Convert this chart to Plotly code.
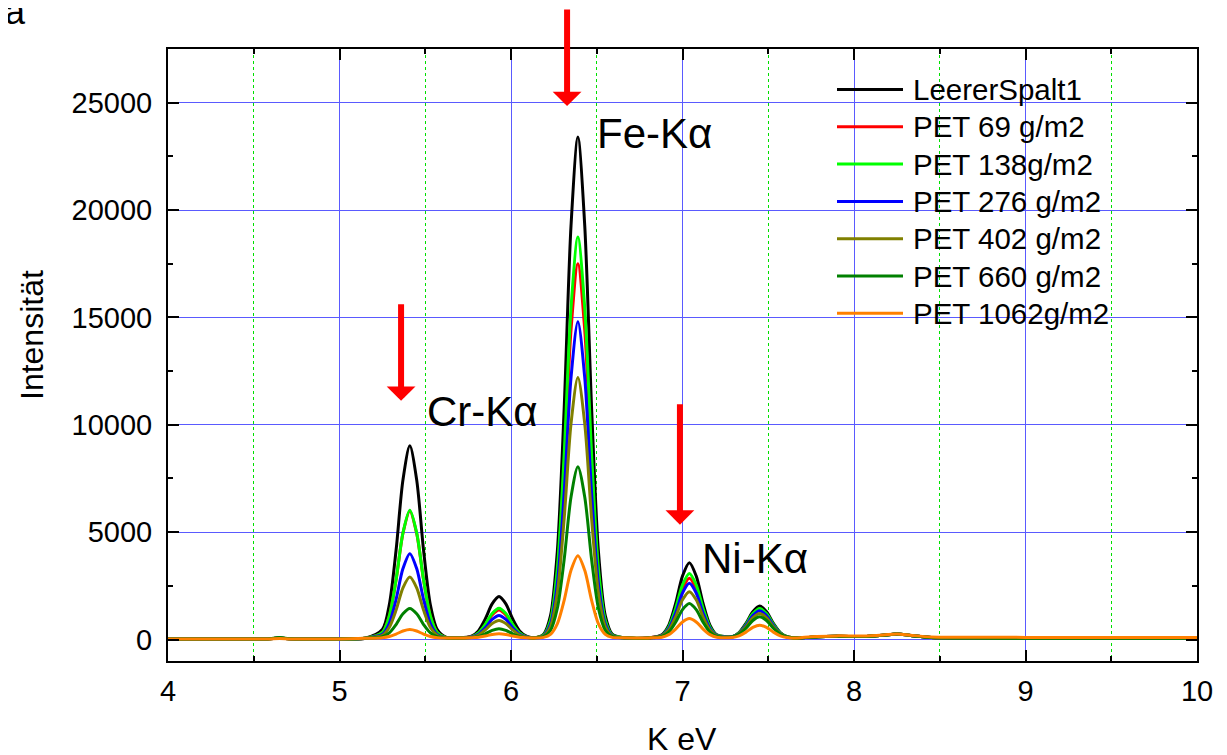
import plotly.graph_objects as go

# ---------------- data ----------------
energy_kev = [4.0, 4.4, 4.58, 4.65, 4.72, 5.0, 5.15,
              5.25, 5.29, 5.33, 5.37, 5.41, 5.45, 5.49, 5.53, 5.57, 5.62,
              5.70,
              5.77, 5.81, 5.85, 5.89, 5.93, 5.97, 6.01, 6.05, 6.09, 6.13,
              6.19, 6.23, 6.27, 6.31, 6.35, 6.39, 6.43, 6.47, 6.51, 6.55, 6.59,
              6.66, 6.80,
              6.88, 6.92, 6.96, 7.00, 7.04, 7.08, 7.12, 7.16, 7.20,
              7.29, 7.33, 7.37, 7.41, 7.45, 7.49, 7.53, 7.57, 7.61, 7.67,
              7.75, 7.9, 8.05, 8.17, 8.25, 8.33, 8.45, 8.7, 9.0, 9.5, 10.0]

leerer_spalt1 = [20, 20, 30, 70, 30, 30, 60,
                 464, 1609, 4169, 7436, 9020, 7436, 4169, 1609, 464, 110,
                 75,
                 155, 402, 954, 1658, 2000, 1658, 954, 402, 155, 85,
                 247, 1097, 4083, 10755, 19271, 23400, 19271, 10755, 4083, 1097, 247,
                 80, 75,
                 224, 674, 1678, 2959, 3580, 2959, 1678, 674, 224,
                 136, 326, 752, 1296, 1560, 1296, 752, 326, 136, 74,
                 110, 150, 140, 200, 260, 190, 90, 70, 60, 60, 60]

pet_69 = [20, 20, 30, 70, 30, 30, 60,
          330, 1090, 2780, 4950, 5990, 4940, 2780, 1085, 330, 97,
          75,
          128, 295, 670, 1148, 1380, 1148, 670, 295, 128, 80,
          202, 837, 3068, 8053, 14415, 17500, 14415, 8053, 3068, 837, 202,
          80, 75,
          192, 548, 1343, 2358, 2850, 2358, 1343, 548, 192,
          129, 299, 679, 1165, 1400, 1165, 679, 299, 129, 74,
          110, 150, 140, 200, 260, 190, 90, 70, 60, 60, 60]

pet_138 = [20, 20, 30, 70, 30, 30, 60,
           332, 1093, 2795, 4967, 6020, 4967, 2795, 1093, 332, 97,
           75,
           131, 309, 707, 1214, 1460, 1214, 707, 309, 131, 81,
           212, 892, 3283, 8625, 15444, 18750, 15444, 8625, 3283, 892, 212,
           80, 75,
           202, 588, 1449, 2547, 3080, 2547, 1449, 588, 202,
           131, 307, 702, 1206, 1450, 1206, 702, 307, 131, 74,
           110, 150, 140, 200, 260, 190, 90, 70, 60, 60, 60]

pet_276 = [20, 20, 30, 70, 30, 30, 60,
           243, 746, 1870, 3304, 4000, 3304, 1870, 746, 243, 88,
           75,
           116, 251, 551, 934, 1120, 934, 551, 251, 116, 78,
           182, 718, 2604, 6816, 12193, 14800, 12193, 6816, 2604, 718, 182,
           80, 75,
           182, 509, 1238, 2169, 2620, 2169, 1238, 509, 182,
           126, 288, 652, 1115, 1340, 1115, 652, 288, 126, 73,
           110, 150, 140, 200, 260, 190, 90, 70, 60, 60, 60]

pet_402 = [20, 20, 30, 70, 30, 30, 60,
           195, 558, 1371, 2407, 2910, 2407, 1371, 558, 195, 83,
           75,
           106, 211, 446, 745, 890, 745, 446, 211, 106, 76,
           162, 604, 2156, 5626, 10053, 12200, 10053, 5626, 2156, 604, 162,
           80, 75,
           165, 442, 1059, 1848, 2230, 1848, 1059, 442, 165,
           120, 267, 594, 1012, 1215, 1012, 594, 267, 120, 73,
           110, 150, 140, 200, 260, 190, 90, 70, 60, 60, 60]

pet_660 = [20, 20, 30, 90, 35, 30, 60,
           130, 306, 697, 1198, 1440, 1198, 697, 306, 130, 76,
           75,
           89, 144, 267, 424, 500, 424, 267, 144, 89, 73,
           131, 421, 1443, 3725, 6638, 8050, 6638, 3725, 1443, 421, 131,
           80, 75,
           141, 347, 807, 1395, 1680, 1395, 807, 347, 141,
           114, 240, 523, 885, 1060, 885, 523, 240, 114, 73,
           110, 150, 140, 200, 260, 190, 90, 70, 60, 60, 60]

pet_1062 = [20, 20, 25, 45, 25, 30, 55,
            88, 139, 253, 399, 470, 399, 253, 139, 88, 72,
            75,
            79, 104, 162, 235, 270, 235, 162, 104, 79, 72,
            99, 239, 729, 1824, 3222, 3900, 3222, 1824, 729, 239, 99,
            80, 75,
            110, 227, 487, 819, 980, 819, 487, 227, 110,
            96, 173, 345, 564, 670, 564, 345, 173, 96, 72,
            130, 170, 160, 210, 260, 200, 120, 110, 100, 100, 100]

series_names = ["LeererSpalt1", "PET 69 g/m2", "PET 138g/m2", "PET 276 g/m2",
                "PET 402 g/m2", "PET 660 g/m2", "PET 1062g/m2"]
series_values = [leerer_spalt1, pet_69, pet_138, pet_276, pet_402, pet_660, pet_1062]
series_colors = ["#000000", "#ff0000", "#00ff00", "#0000ff", "#808000", "#008000", "#ff8000"]

peak_labels = ["Cr-K\u03b1", "Fe-K\u03b1", "Ni-K\u03b1"]
peak_label_x = [5.50, 6.49, 7.10]
peak_label_y = [10600, 23580, 3770]

arrow_x = [5.359, 6.327, 6.985]
arrow_tip_y = [11116, 24840, 5349]
arrow_len_px = [98, 99, 122]

x_ticks = [4, 5, 6, 7, 8, 9, 10]
y_ticks = [0, 5000, 10000, 15000, 20000, 25000]

# ---------------- figure ----------------
FONT = "Liberation Sans, Arial, sans-serif"
W, H = 1227, 755
OFF = 8  # page body margin of the browser
ML, MT = 168 - OFF, 49 - OFF
PW, PH = 1029, 612
MR = W - ML - PW
MB = H - MT - PH


def px_x(px):
    return (px - OFF - ML) / PW


def px_y(py):
    return (MT + PH - (py - OFF)) / PH


fig = go.Figure()
for name, vals, col in zip(series_names, series_values, series_colors):
    fig.add_trace(go.Scatter(x=energy_kev, y=vals, mode="lines", name=name,
                             line=dict(color=col, width=3, shape="spline", smoothing=0.8),
                             showlegend=False))

axis_common = dict(showline=True, linewidth=2, linecolor="black", mirror="ticks",
                   ticks="inside", ticklen=11, tickwidth=2, tickcolor="black",
                   tickfont=dict(family=FONT, size=29, color="black"),
                   zeroline=False)

fig.update_xaxes(range=[4, 10], tickvals=x_ticks, showgrid=True,
                 gridcolor="#5a5aff", gridwidth=1, ticklabelstandoff=3,
                 minor=dict(dtick=0.5, ticks="inside", ticklen=5, tickwidth=2,
                            tickcolor="black", showgrid=True, gridcolor="#00e000",
                            griddash="dot", gridwidth=1),
                 **axis_common)
fig.update_yaxes(range=[-1000, 27500], tickvals=y_ticks, tickformat="d",
                 showgrid=True, gridcolor="#5a5aff", gridwidth=1, ticklabelstandoff=8,
                 minor=dict(dtick=2500, ticks="inside", ticklen=5, tickwidth=2,
                            tickcolor="black", showgrid=False),
                 **axis_common)

annotations = []
for txt, lx, ly in zip(peak_labels, peak_label_x, peak_label_y):
    annotations.append(dict(x=lx, y=ly, xref="x", yref="y", text=txt, showarrow=False,
                            xanchor="left", yanchor="middle",
                            font=dict(family=FONT, size=42, color="black")))
for ax_, ty, ln in zip(arrow_x, arrow_tip_y, arrow_len_px):
    annotations.append(dict(x=ax_, y=ty, xref="x", yref="y", text="", showarrow=True,
                            ax=0, ay=-ln, arrowhead=1, arrowsize=0.8, arrowwidth=6,
                            arrowcolor="#ff0000", standoff=0))

# legend (drawn manually to match long line samples)
leg_y0_px, leg_step_px = 89.5, 37.3
leg_line_x0, leg_line_x1, leg_text_x = 837, 903, 911
shapes = []
for i, (name, col) in enumerate(zip(series_names, series_colors)):
    yp = px_y(leg_y0_px + i * leg_step_px)
    shapes.append(dict(type="line", xref="paper", yref="paper",
                       x0=px_x(leg_line_x0), x1=px_x(leg_line_x1),
                       y0=yp, y1=yp, line=dict(color=col, width=3)))
    annotations.append(dict(x=px_x(leg_text_x), y=yp, xref="paper", yref="paper",
                            text=name, showarrow=False, xanchor="left", yanchor="middle",
                            font=dict(family=FONT, size=29.5, color="black")))

# axis titles and panel letter
annotations.append(dict(x=px_x(682), y=px_y(739), xref="paper", yref="paper",
                        text="K eV", showarrow=False, xanchor="center", yanchor="middle",
                        font=dict(family=FONT, size=32, color="black")))
annotations.append(dict(x=px_x(32), y=px_y(335), xref="paper", yref="paper",
                        text="Intensit\u00e4t", showarrow=False, textangle=-90,
                        xanchor="center", yanchor="middle",
                        font=dict(family=FONT, size=32, color="black")))
annotations.append(dict(x=px_x(3), y=px_y(11), xref="paper", yref="paper",
                        text="a", showarrow=False, xanchor="left", yanchor="middle",
                        font=dict(family=FONT, size=36, color="black")))

fig.update_layout(width=W, height=H, margin=dict(l=ML, r=MR, t=MT, b=MB),
                  paper_bgcolor="white", plot_bgcolor="white",
                  annotations=annotations, shapes=shapes, showlegend=False,
                  font=dict(family=FONT, color="black"))

fig.write_html("out.html")
